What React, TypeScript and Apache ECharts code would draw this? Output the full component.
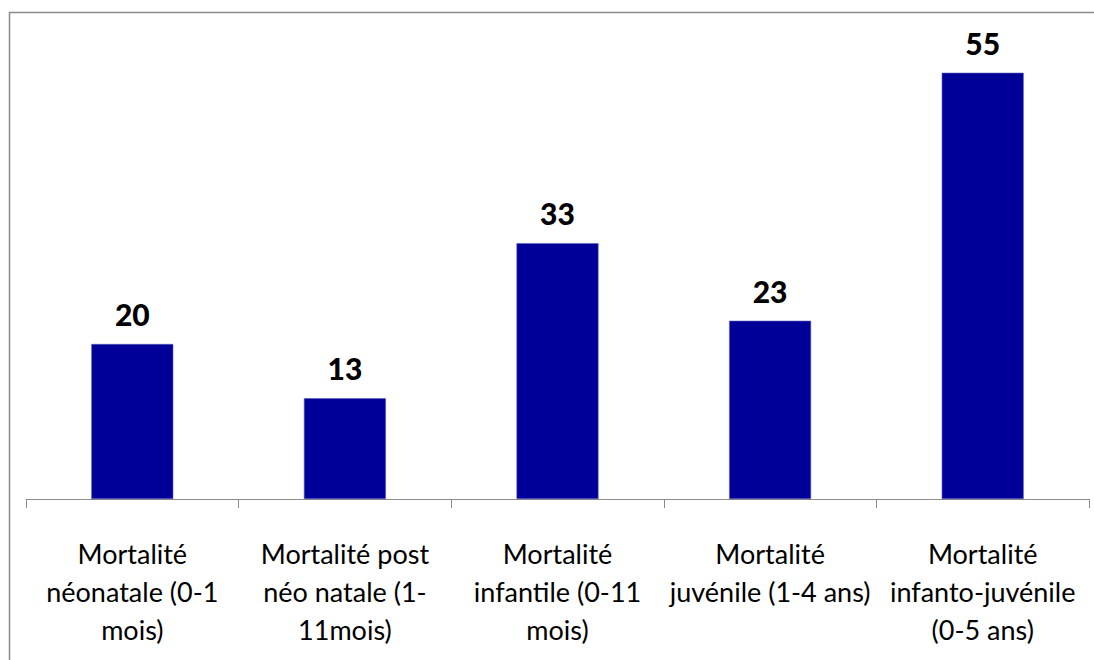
import React, { useEffect, useRef } from "react";
import * as echarts from "echarts";

const categories = [
  "Mortalité\nnéonatale (0-1\nmois)",
  "Mortalité post\nnéo natale (1-\n11mois)",
  "Mortalité\ninfantile (0-11\nmois)",
  "Mortalité\njuvénile (1-4 ans)",
  "Mortalité\ninfanto-juvénile\n(0-5 ans)",
];
const values = [20, 13, 33, 23, 55];

export default function App() {
  const ref = useRef<HTMLDivElement>(null);
  useEffect(() => {
    if (!ref.current) return;
    const chart = echarts.init(ref.current, undefined, { renderer: "svg" });
    chart.setOption({
      animation: false,
      backgroundColor: "#ffffff",
      graphic: [
        {
          type: "rect",
          shape: { x: 9.5, y: 12.5, width: 1100, height: 700 },
          style: { fill: "none", stroke: "#8a8a8a", lineWidth: 1.5 },
          silent: true,
        },
      ],
      grid: { left: 26, right: 5, top: 34, bottom: 161, containLabel: false },
      xAxis: {
        type: "category",
        data: categories,
        axisLine: { lineStyle: { color: "#8c8c8c", width: 1 } },
        axisTick: { show: true, length: 9, lineStyle: { color: "#8c8c8c" } },
        axisLabel: {
          interval: 0,
          margin: 35,
          color: "#000000",
          fontFamily: "Lato",
          fontSize: 27,
          lineHeight: 38,
        },
      },
      yAxis: {
        type: "value",
        min: 0,
        max: 60,
        show: false,
        splitLine: { show: false },
      },
      series: [
        {
          type: "bar",
          data: values,
          barWidth: 82,
          itemStyle: { color: "#000099", borderColor: "#5a5ac0", borderWidth: 0.6 },
          label: {
            show: true,
            position: "top",
            distance: 15,
            color: "#000000",
            fontFamily: "Lato",
            fontWeight: 900,
            fontSize: 30,
          },
        },
      ],
    });
    return () => chart.dispose();
  }, []);
  return (
    <div
      ref={ref}
      style={{ position: "absolute", left: 0, top: 0, width: 1094, height: 660 }}
    />
  );
}
